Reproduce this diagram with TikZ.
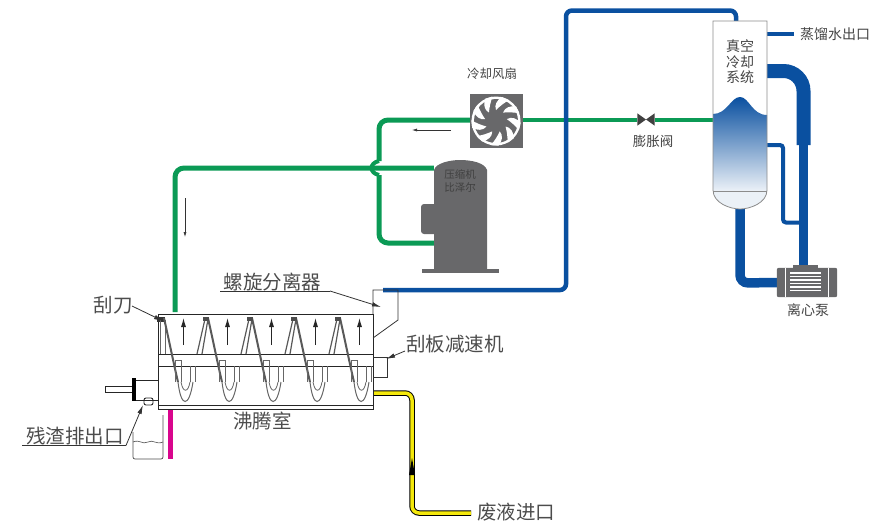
\documentclass[tikz,border=0pt]{standalone}
\usepackage{fontspec}
\setmainfont{Noto Sans CJK SC}
\usetikzlibrary{arrows.meta}
\definecolor{pipeblue}{HTML}{0A50A0}
\definecolor{pipegreen}{HTML}{0B9A55}
\definecolor{devgray}{HTML}{68686A}
\definecolor{textgray}{HTML}{444444}
\tikzset{
  pipegreen/.style = {draw=pipegreen,line width=5pt,rounded corners=9pt},
  pipeblue/.style = {draw=pipeblue,line width=4.5pt,rounded corners=6pt},
  leader/.style = {draw=black!80,line width=.8pt},
  leadarrow/.style = {leader,-{Latex[length=9pt,width=4.5pt]}},
  flow/.style = {draw=black!80,line width=.6pt,-{Latex[length=5pt,width=3pt]}},
  uparrow/.style = {draw=black!85,line width=.9pt,-{Latex[length=9pt,width=5pt]}},
  smalltxt/.style = {font=\fontsize{12.5}{14.5}\selectfont,text=textgray,inner sep=0pt,align=center},
  bigtxt/.style = {font=\fontsize{19.5}{21}\selectfont,text=black!70,inner sep=0pt},
  device/.style = {fill=devgray,inner sep=0pt}
}
\begin{document}
\begin{tikzpicture}[x=1pt,y=-1pt]
  \useasboundingbox (0,0) rectangle (885,531);

  % nodes
  \node[device,minimum width=53pt,minimum height=54pt] (fan) at (496.5,121) {};
  \node[inner sep=0pt,minimum width=17pt,minimum height=12pt] (valve) at (646,119.5) {};
  \node[inner sep=0pt,minimum width=54pt,minimum height=188pt] (tower) at (740,115) {};
  \node[inner sep=0pt,minimum width=53pt,minimum height=111pt] (comp) at (460.5,215.5) {};
  \node[inner sep=0pt,minimum width=60pt,minimum height=29pt] (pump) at (807,282.5) {};
  \node[inner sep=0pt,minimum width=215pt,minimum height=95pt] (chamber) at (265.5,361.5) {};
  \coordinate (outlet) at (383,290);
  \coordinate (feedin) at (373,393);
  \coordinate (feedend) at (471,513);

  % green pipes
  \draw[pipegreen] (fan.west |- 0,120) -- (379,120) -- (379,161);
  \draw[pipegreen] (379,175) -- (379,243) -- (comp.west |- 0,243);
  \draw[pipegreen] (comp.west |- 0,168) -- (175,168) -- (175,312);
  \draw[pipegreen,line width=4pt,rounded corners=0pt] (379,161) .. controls (369,163) and (369,173) .. (379,175);
  \draw[pipegreen,line width=4pt] (fan.east |- 0,120) -- (valve.west |- 0,120);
  \draw[pipegreen,line width=4pt] (valve.east |- 0,120) -- (tower.west |- 0,120);

  % blue pipes
  \draw[pipeblue] (outlet) -- (566,290) -- (566,10.5) -- (736,10.5) -- (tower.north -| 736,0);
  \draw[pipeblue] (tower.east |- 0,34) -- (794,34);
  \draw[pipeblue,line width=4pt,rounded corners=3pt] (tower.east |- 0,145) -- (783,145) -- (783,222.5) -- (800,222.5);
  \draw[pipeblue,line width=14pt,rounded corners=20pt] (tower.east |- 0,71) -- (803.5,71) -- (803.5,145);
  \draw[pipeblue,line width=9pt] (803.5,144) -- (pump.north -| 803.5,0);
  \draw[pipeblue,line width=9.5pt,rounded corners=8pt] (740,205) -- (740,283) -- (pump.west);

  % yellow pipe
  \draw[black,line width=5.5pt,rounded corners=7pt] (feedin) -- (412,393) -- (412,513) -- (feedend);
  \draw[yellow!95!black,line width=3.5pt,rounded corners=7pt] (feedin) -- (412,393) -- (412,513) -- (feedend);
  \fill[black] (412,458) -- (415,475) -- (409,475) -- cycle;

  % tower
  \fill[white] (713,21) -- (767,21) -- (767,190) .. controls (767,203) and (750,209) .. (740,209) .. controls (730,209) and (713,203) .. (713,190) -- cycle;
  \fill[pipeblue!8] (713,191) -- (767,191) -- (767,190) .. controls (767,203) and (750,209) .. (740,209) .. controls (730,209) and (713,203) .. (713,190) -- cycle;
  \shade[top color=pipeblue,bottom color=pipeblue!8] (713,114) .. controls (727,114) and (731,97) .. (740,97) .. controls (749,97) and (752,115) .. (767,115) -- (767,191) -- (713,191) -- cycle;
  \draw[black!45,line width=.7pt] (713,191) -- (767,191);
  \draw[black!45,line width=.8pt] (713,21) -- (767,21) -- (767,190) .. controls (767,203) and (750,209) .. (740,209) .. controls (730,209) and (713,203) .. (713,190) -- cycle;
  \node[smalltxt,font=\fontsize{14}{15.5}\selectfont] (towertxt) at (740,62) {真空\\冷却\\系统};

  % fan
  \fill[white] (496,121) circle (24.5pt);
  \fill[devgray] (496,121) circle (22pt);
  \foreach \a in {0,40,...,320}
    \fill[white,rotate around={\a:(496,121)}] (496,110) .. controls (500,106) and (504,103) .. (509,100) -- (502,97) .. controls (497,100) and (494,105) .. (496,110) -- cycle;

  % compressor
  \fill[devgray] (434,170) .. controls (436,163) and (450,160) .. (460,160) .. controls (472,160) and (485,163) .. (487,170) -- (487,270) -- (434,270) -- cycle;
  \fill[devgray] (422,269) rectangle (499,273);
  \fill[devgray,rounded corners=3pt] (421,204) rectangle (448,234);
  \node[smalltxt,text=black!75,font=\fontsize{10.5}{13}\selectfont] (comptxt) at (460,180.5) {压缩机\\比泽尔};

  % pump
  \fill[devgray,rounded corners=2pt] (pump.south west) rectangle (pump.north east);
  \fill[devgray] (793,265) rectangle (818,270);
  \draw[white,line width=.8pt] (785,268) -- (785,297) (828,268) -- (828,297);
  \foreach \y in {273,276.5,...,292}
    \draw[white,line width=1.2pt] (790,\y) -- (821,\y);

  % valve
  \fill[black!75] (valve.north west) -- (valve.center) -- (valve.south west) -- cycle;
  \fill[black!75] (valve.north east) -- (valve.center) -- (valve.south east) -- cycle;

  % chamber
  \draw[black!85,line width=1pt] (158,314) rectangle (373,409);
  \draw[black!85,line width=1pt] (158,354) -- (373,354) (158,366) -- (373,366) (158,405) -- (373,405);
  \draw[black!80,line width=.8pt] (373,314) -- (373,290) -- (398,290) -- (398,320) -- (373,338);
  \draw[black!80,line width=.8pt] (373,357) -- (387,357) -- (387,377) -- (373,377);
  \fill[black!80] (157,317) rectangle (165,322);
  \draw[black!60,line width=.8pt] (160,320) -- (160,354) (165,320) -- (165,354);
  \foreach \x in {0,44,88,132,176} {
    \begin{scope}[xshift=\x pt]
      % descending blade and outer arc
      \draw[black!65,line width=2pt] (164,318) .. controls (170,345) and (174,365) .. (178,382);
      \draw[black!60,line width=1pt] (178,382) .. controls (181,408) and (189,408) .. (193,382);
      % inner cup
      \draw[black!60,line width=.8pt] (175,366) -- (175,382) (181,360) -- (181,382) (190,366) -- (190,382) (195,366) -- (195,382);
      \draw[black!60,line width=.8pt] (181,382) .. controls (183,393) and (188,393) .. (190,382);
      \draw[black!60,line width=.8pt] (175,360) -- (181,360) (175,360) -- (175,366);
      \draw[uparrow] (183.5,345) -- (183.5,318);
    \end{scope}
  }
  \foreach \x in {0,44,88,132} {
    \begin{scope}[xshift=\x pt]
      % rising blade above the band
      \draw[black!65,line width=1.2pt] (197,354) -- (205,319) (202,354) -- (208,319);
      \fill[black!70] (203,317) rectangle (209,321);
    \end{scope}
  }

  % left end
  \draw[black!85,line width=.9pt] (105,386) rectangle (132,392.5);
  \fill[black] (132,378) rectangle (136,401);
  \draw[black!85,line width=.9pt] (136,380) -- (158,380) (136,400) -- (158,400);
  \draw[black!85,line width=.9pt,rounded corners=2pt] (144,405) -- (144,398) -- (153,398) -- (153,405) -- cycle;
  \draw[black!70,line width=.7pt,rounded corners=2pt] (133,432) -- (133,459) -- (163,459) -- (163,415);
  \draw[black!70,line width=.6pt] (133,442) .. controls (140,439) and (142,445) .. (148,442) .. controls (153,439) and (156,445) .. (163,442);
  \fill[magenta!90!blue] (168,410) rectangle (173,459);

  % leaders
  \draw[leader] (220,291) -- (330,291);
  \draw[leadarrow] (330,291) -- (381,307);
  \draw[leadarrow] (132,306) -- (163,321);
  \draw[leadarrow] (405,351) -- (386,359);
  \draw[leader] (22,445.5) -- (126,445.5);
  \draw[leadarrow] (126,445.5) -- (143,405);
  \draw[flow] (185,198) -- (185,237);
  \draw[flow] (451,130) -- (412,130);

  % labels
  \node[smalltxt] (fantxt) at (492,74) {冷却风扇};
  \node[smalltxt,font=\fontsize{13.5}{15}\selectfont] (valvetxt) at (653,141) {膨胀阀};
  \node[smalltxt,font=\fontsize{14}{15}\selectfont] (watertxt) at (835,34) {蒸馏水出口};
  \node[smalltxt,font=\fontsize{14}{15}\selectfont] (pumptxt) at (808,310) {离心泵};
  \node[bigtxt] (septxt) at (272.5,282) {螺旋分离器};
  \node[bigtxt] (knifetxt) at (113,305) {刮刀};
  \node[bigtxt] (geartxt) at (455,344) {刮板减速机};
  \node[bigtxt] (slagtxt) at (75,436) {残渣排出口};
  \node[bigtxt] (boiltxt) at (262.5,421) {沸腾室};
  \node[bigtxt] (wastetxt) at (516,512) {废液进口};
\end{tikzpicture}
\end{document}
